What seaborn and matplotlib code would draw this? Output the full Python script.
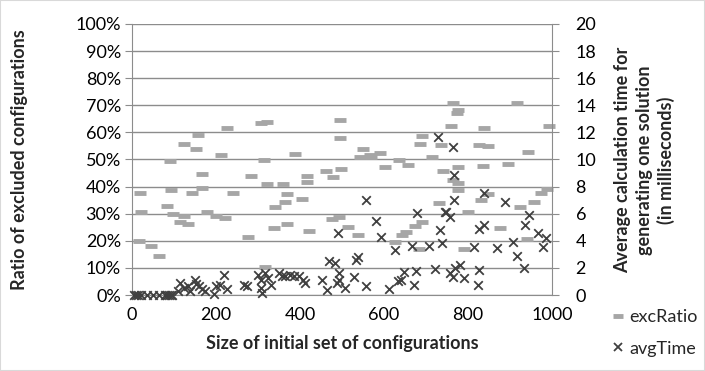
import matplotlib
matplotlib.use("Agg")
import matplotlib.pyplot as plt
from matplotlib.lines import Line2D
from matplotlib.patches import Rectangle
from matplotlib.ticker import PercentFormatter, MultipleLocator
import seaborn as sns
import pandas as pd

sns.set_style("white")
plt.rcParams['font.family'] = ['Lato', 'DejaVu Sans']

# excRatio series (size of initial set, ratio in %)
ratio_x = [20, 21, 17, 46, 64, 83, 90, 92, 98, 115, 124, 134, 124, 158, 152, 167,
           167, 144, 178, 200, 222, 212, 226, 240, 275, 283, 306, 321, 314, 321, 340, 337, 359,
           364, 369, 369, 387, 404, 416, 416, 421, 463, 479, 476, 494, 495, 495, 497, 317, 514,
           539, 549, 542, 566, 570, 590, 603, 635, 625, 643, 652, 656, 673, 690, 683, 685, 690,
           714, 736, 730, 741, 765, 775, 773, 759, 775, 765, 777, 775, 799, 791, 825, 847, 837,
           835, 831, 848, 876, 895, 917, 944, 924, 956, 941, 973, 989, 994]
ratio_y = [37.6, 30.8, 20.1, 17.9, 14.4, 33.0, 49.5, 38.8, 29.9, 26.8, 29.1, 26.2, 55.7,
           59.1, 53.7, 44.7, 39.3, 37.5, 30.6, 29.1, 28.5, 51.8, 61.8, 37.6, 21.4, 44.0, 63.4,
           64.0, 49.9, 40.8, 32.6, 24.9, 40.8, 34.2, 37.3, 26.2, 52.1, 35.6, 44.0, 41.6, 23.5,
           45.9, 43.6, 28.0, 28.6, 64.6, 58.1, 46.6, 10.3, 25.1, 22.1, 53.9, 51.1, 51.8, 51.0,
           52.3, 47.2, 50.0, 19.5, 22.2, 23.2, 47.9, 25.3, 27.0, 17.0, 55.7, 58.8, 51.1, 55.2,
           33.8, 45.9, 70.8, 68.4, 67.2, 62.2, 47.4, 42.3, 41.3, 38.6, 30.8, 17.0, 55.3, 55.0,
           61.8, 47.7, 35.1, 37.2, 24.6, 48.5, 70.8, 52.8, 32.3, 34.4, 20.8, 37.5, 39.0, 62.5]

# avgTime series (size of initial set, ms)
time_x = [5, 10, 15, 22, 35, 50, 65, 78, 83, 88, 92, 96, 114, 110, 124, 133, 137, 149, 153, 160,
          167, 173, 195, 201, 209, 219, 226, 266, 274, 300, 308, 306, 310, 316, 324, 332, 351,
          357, 365, 375, 385, 397, 407, 411, 452, 464, 468, 483, 488, 491, 557, 581, 593, 537,
          533, 494, 492, 506, 529, 557, 613, 627, 633, 641, 648, 667, 676, 672, 679, 706, 722,
          728, 733, 738, 746, 765, 767, 767, 748, 757, 825, 837, 839, 815, 868, 887, 908, 916,
          933, 946, 936, 966, 986, 978, 757, 765, 781, 791, 827, 823, 769]
time_y = [0, 0, 0, 0, 0, 0, 0, 0, 0, 0, 0, 0, 0.88, 0.27, 0.52, 0.64, 0.27, 1.13, 0.81, 0.64,
          0.44, 0.27, 0.07, 0.64, 0.76, 1.5, 0.44, 0.76, 0.64, 1.5, 1.13, 0.52, 0.15, 1.62, 1.25,
          0.76, 1.62, 1.38, 1.38, 1.45, 1.38, 1.38, 1.13, 0.88, 1.13, 0.39, 2.48, 2.36, 0.88,
          4.57, 6.98, 5.48, 4.25, 2.8, 2.56, 1.62, 1.13, 0.52, 1.33, 0.64, 0.44, 3.34, 1.0, 1.13,
          1.7, 3.64, 1.74, 0.76, 6.04, 3.64, 1.92, 11.65, 4.82, 3.83, 6.1, 10.9, 8.87, 7.03,
          6.09, 5.75, 4.89, 5.18, 7.52, 3.51, 3.44, 6.86, 3.88, 2.85, 1.99, 5.92, 5.18, 4.57,
          4.2, 3.51, 1.62, 1.33, 2.24, 1.23, 1.82, 0.76, 1.99]

ratio_df = pd.DataFrame({'size': ratio_x, 'ratio': [v / 100 for v in ratio_y]})
time_df = pd.DataFrame({'size': time_x, 'ms': time_y})

W, H = 705, 371
FS = 13
fig = plt.figure(figsize=(W / 100, H / 100), dpi=100)
ax = fig.add_axes([132 / W, 76 / H, 420 / W, 271 / H])
axis_grey = '#8c8c8c'
dash_grey = '#a6a6a6'
cross = '#404040'

sns.scatterplot(data=ratio_df, x='size', y='ratio', marker='_', s=70, linewidth=3.5,
                color=dash_grey, ax=ax, zorder=3)
ax.set_xlim(0, 1000)
ax.set_ylim(0, 1)
ax.xaxis.set_major_locator(MultipleLocator(200))
ax.yaxis.set_major_locator(MultipleLocator(0.1))
ax.yaxis.set_major_formatter(PercentFormatter(1.0, decimals=0))
ax.grid(axis='y', color=axis_grey, linewidth=1)
ax.set_axisbelow(True)
ax.set_xlabel('')
ax.set_ylabel('')
for side in ['top', 'right']:
    ax.spines[side].set_visible(False)
for side in ['left', 'bottom']:
    ax.spines[side].set_color(axis_grey)
ax.tick_params(axis='both', direction='out', length=5, color=axis_grey, labelsize=FS,
               labelcolor='black')
ax.tick_params(axis='x', pad=4)
ax.tick_params(axis='y', pad=3, left=True)

ax2 = ax.twinx()
sns.scatterplot(data=time_df, x='size', y='ms', marker='x', s=38, linewidth=1.3,
                color=cross, ax=ax2, zorder=4)
ax2.set_ylim(0, 20)
ax2.yaxis.set_major_locator(MultipleLocator(2))
ax2.set_ylabel('')
for side in ['top', 'left', 'bottom']:
    ax2.spines[side].set_visible(False)
ax2.spines['right'].set_color(axis_grey)
ax2.tick_params(axis='y', direction='out', length=5, color=axis_grey, labelsize=FS,
                labelcolor='black', pad=12)
for coll in ax.collections + ax2.collections:
    coll.set_clip_on(False)

fig.text(20 / W, 1 - 160 / H, 'Ratio of excluded configurations', rotation=90,
         ha='center', va='center', fontsize=FS, fontweight='bold')
fig.text(342 / W, 1 - 343 / H, 'Size of initial set of configurations',
         ha='center', va='center', fontsize=FS, fontweight='bold')
fig.text(645 / W, 1 - 160 / H,
         'Average calculation time for\ngenerating one solution\n(in milliseconds)',
         rotation=90, ha='center', va='center', multialignment='center',
         fontsize=FS, fontweight='bold', linespacing=1.3)

handles = [Line2D([], [], marker='_', linestyle='none', markersize=7, markeredgewidth=3.5,
                  color=dash_grey),
           Line2D([], [], marker='x', linestyle='none', markersize=6, markeredgewidth=1.3,
                  color=cross)]
fig.legend(handles, ['excRatio', 'avgTime'], loc='upper left',
           bbox_to_anchor=(604 / W, 1 - 302 / H), frameon=False, fontsize=FS,
           labelspacing=0.85, handlelength=0.8, handletextpad=0.2, borderaxespad=0)

fig.patches.append(Rectangle((0, 0), 1, 1, transform=fig.transFigure, fill=False,
                             edgecolor='#d9d9d9', linewidth=1.5))
fig.savefig('out.png', dpi=100)
